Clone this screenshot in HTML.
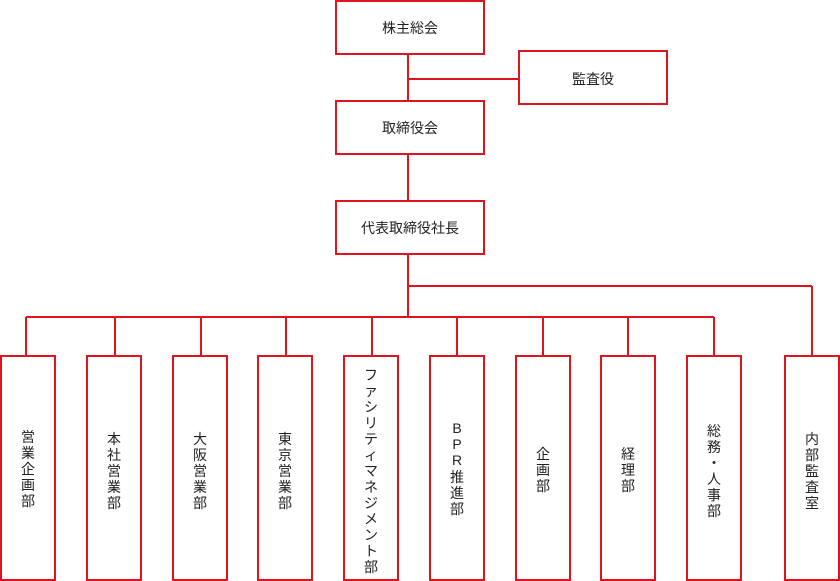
<!DOCTYPE html>
<html><head><meta charset="utf-8"><style>
html,body{margin:0;padding:0;background:#fff;}
svg{display:block;}
text{font-family:"Liberation Sans","Noto Sans CJK JP",sans-serif;font-size:14px;fill:#222;}
</style></head><body>
<svg width="840" height="581" viewBox="0 0 840 581" xmlns="http://www.w3.org/2000/svg">
<g stroke="#e0141c" stroke-width="2" fill="none">
<line x1="408" y1="55" x2="408" y2="101"/>
<line x1="408" y1="79" x2="519" y2="79"/>
<line x1="408" y1="155" x2="408" y2="201"/>
<line x1="408" y1="255" x2="408" y2="317"/>
<line x1="408" y1="286" x2="812" y2="286"/>
<line x1="812" y1="286" x2="812" y2="356"/>
<line x1="26" y1="317" x2="714" y2="317"/>
<line x1="26" y1="317" x2="26" y2="356"/>
<line x1="115" y1="317" x2="115" y2="356"/>
<line x1="201" y1="317" x2="201" y2="356"/>
<line x1="286" y1="317" x2="286" y2="356"/>
<line x1="372" y1="317" x2="372" y2="356"/>
<line x1="457" y1="317" x2="457" y2="356"/>
<line x1="543" y1="317" x2="543" y2="356"/>
<line x1="628" y1="317" x2="628" y2="356"/>
<line x1="714" y1="317" x2="714" y2="356"/>
<rect x="336" y="1" width="148" height="53" fill="#fff"/>
<rect x="519" y="51" width="148" height="53" fill="#fff"/>
<rect x="336" y="101" width="148" height="53" fill="#fff"/>
<rect x="336" y="201" width="148" height="53" fill="#fff"/>
<rect x="1" y="356" width="54" height="224" fill="#fff"/>
<rect x="87" y="356" width="54" height="224" fill="#fff"/>
<rect x="173" y="356" width="54" height="224" fill="#fff"/>
<rect x="258" y="356" width="54" height="224" fill="#fff"/>
<rect x="344" y="356" width="54" height="224" fill="#fff"/>
<rect x="430" y="356" width="54" height="224" fill="#fff"/>
<rect x="516" y="356" width="54" height="224" fill="#fff"/>
<rect x="601" y="356" width="54" height="224" fill="#fff"/>
<rect x="687" y="356" width="54" height="224" fill="#fff"/>
<rect x="785" y="356" width="54" height="224" fill="#fff"/>
</g>
<g text-anchor="middle">
<text x="410" y="33">株主総会</text>
<text x="593" y="84">監査役</text>
<text x="410" y="133">取締役会</text>
<text x="410" y="233">代表取締役社長</text>
</g>
<g text-anchor="middle" font-size="15">
<text x="28" y="442">営</text><text x="28" y="458">業</text><text x="28" y="474">企</text><text x="28" y="490">画</text><text x="28" y="506">部</text>
<text x="114" y="444">本</text><text x="114" y="460">社</text><text x="114" y="476">営</text><text x="114" y="492">業</text><text x="114" y="508">部</text>
<text x="200" y="444">大</text><text x="200" y="460">阪</text><text x="200" y="476">営</text><text x="200" y="492">業</text><text x="200" y="508">部</text>
<text x="285" y="444">東</text><text x="285" y="460">京</text><text x="285" y="476">営</text><text x="285" y="492">業</text><text x="285" y="508">部</text>
<text x="371" y="380">フ</text><text x="371" y="396">ァ</text><text x="371" y="412">シ</text><text x="371" y="428">リ</text><text x="371" y="444">テ</text><text x="371" y="460">ィ</text><text x="371" y="476">マ</text><text x="371" y="492">ネ</text><text x="371" y="508">ジ</text><text x="371" y="524">メ</text><text x="371" y="540">ン</text><text x="371" y="556">ト</text><text x="371" y="572">部</text>
<text x="457" y="433">B</text><text x="457" y="449">P</text><text x="457" y="465">R</text><text x="457" y="482">推</text><text x="457" y="498">進</text><text x="457" y="514">部</text>
<text x="543" y="459">企</text><text x="543" y="475">画</text><text x="543" y="491">部</text>
<text x="628" y="459">経</text><text x="628" y="475">理</text><text x="628" y="491">部</text>
<text x="714" y="436">総</text><text x="714" y="452">務</text><text x="714" y="468">・</text><text x="714" y="484">人</text><text x="714" y="500">事</text><text x="714" y="516">部</text>
<text x="812" y="444">内</text><text x="812" y="460">部</text><text x="812" y="476">監</text><text x="812" y="492">査</text><text x="812" y="508">室</text>
</g>
</svg>
</body></html>
